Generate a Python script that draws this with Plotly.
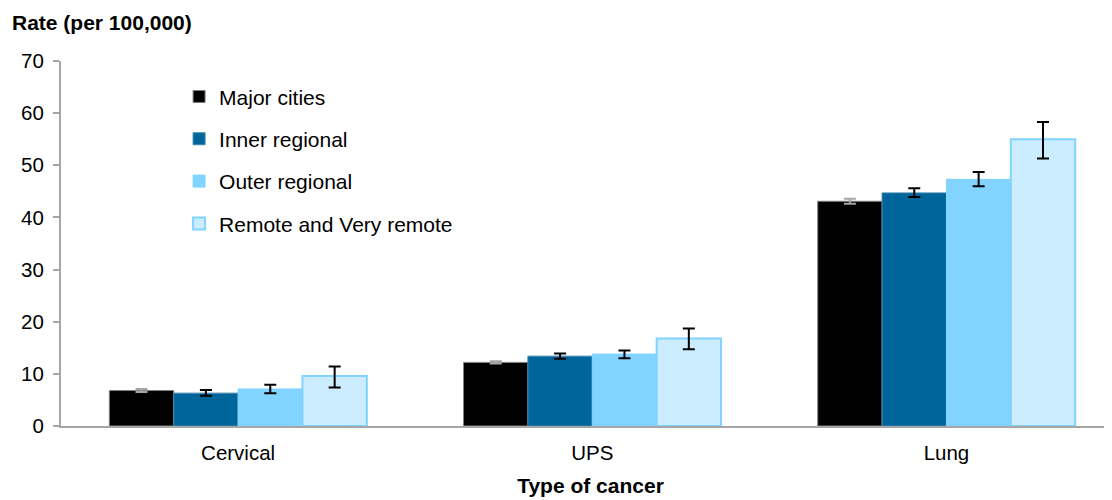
import plotly.graph_objects as go

categories = ["Cervical", "UPS", "Lung"]
series_names = ["Major cities", "Inner regional", "Outer regional", "Remote and Very remote"]

major_cities = [6.8, 12.2, 43.1]
inner_regional = [6.3, 13.4, 44.7]
outer_regional = [7.1, 13.8, 47.3]
remote = [9.6, 16.8, 55.0]

major_err_plus = [0.3, 0.2, 0.5]
major_err_minus = [0.3, 0.2, 0.5]
inner_err_plus = [0.6, 0.5, 0.9]
inner_err_minus = [0.5, 0.5, 0.8]
outer_err_plus = [0.8, 0.7, 1.4]
outer_err_minus = [0.8, 0.8, 1.3]
remote_err_plus = [1.8, 1.9, 3.3]
remote_err_minus = [2.2, 2.1, 3.7]

values = [major_cities, inner_regional, outer_regional, remote]
err_plus = [major_err_plus, inner_err_plus, outer_err_plus, remote_err_plus]
err_minus = [major_err_minus, inner_err_minus, outer_err_minus, remote_err_minus]

fills = ["#000000", "#00659a", "#80d4ff", "#ccedff"]
lines = ["#808080", "#3f86ad", "#80d4ff", "#80d4ff"]
line_widths = [1, 1, 1, 2]
err_colors = ["#a6a6a6", "#000000", "#000000", "#000000"]

FONT = "Liberation Sans, Arial, sans-serif"

fig = go.Figure()
for i, name in enumerate(series_names):
    fig.add_trace(go.Bar(
        x=categories, y=values[i], name=name,
        legendgroup=name,
        marker=dict(color=fills[i], line=dict(color=lines[i], width=line_widths[i])),
        error_y=dict(type="data", symmetric=False, array=err_plus[i], arrayminus=err_minus[i],
                     color=err_colors[i], thickness=2, width=6),
    ))

fig.update_layout(
    width=1112, height=500,
    barmode="group", bargap=0.273, bargroupgap=0,
    plot_bgcolor="white", paper_bgcolor="white",
    margin=dict(l=53, r=0, t=53, b=82),
    font=dict(family=FONT, size=21, color="#000000"),
    showlegend=True,
    legend=dict(x=0.1115, y=0.958, xanchor="left", yanchor="top",
                font=dict(size=21, family=FONT), tracegroupgap=12,
                bgcolor="rgba(0,0,0,0)", itemwidth=30),
    xaxis=dict(range=[-0.5, 2.49], showline=True, linecolor="#a6a6a6", linewidth=2,
               ticks="", tickfont=dict(size=20.5), ticklabelstandoff=7,
               title=dict(text="<b>Type of cancer</b>", font=dict(size=21), standoff=16)),
    yaxis=dict(range=[0, 70], dtick=10, showline=True, linecolor="#a6a6a6", linewidth=2,
               ticks="outside", ticklen=6, tickcolor="#a6a6a6", tickwidth=2,
               ticklabelstandoff=5,
               showgrid=False, zeroline=False, tickfont=dict(size=20.5)),
    annotations=[dict(text="<b>Rate (per 100,000)</b>", xref="paper", yref="paper",
                      x=-51/1059, y=1 + 39/365, xanchor="left", yanchor="middle",
                      showarrow=False, font=dict(size=21))],
)

fig.write_html("out.html")
